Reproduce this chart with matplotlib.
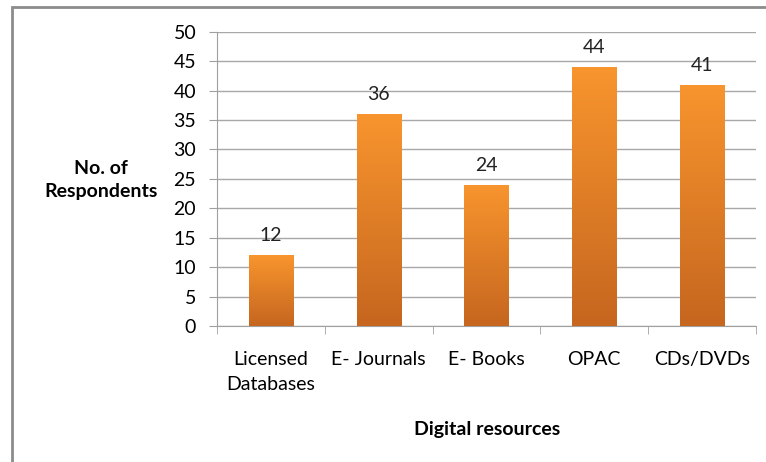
import numpy as np
import matplotlib
matplotlib.use('Agg')
import matplotlib.pyplot as plt
from matplotlib.colors import LinearSegmentedColormap
from matplotlib.patches import Rectangle

categories = ['Licensed\nDatabases', 'E- Journals', 'E- Books', 'OPAC', 'CDs/DVDs']
respondents = [12, 36, 24, 44, 41]
yticks = [0, 5, 10, 15, 20, 25, 30, 35, 40, 45, 50]

plt.rcParams['font.family'] = ['Lato', 'DejaVu Sans']

fig = plt.figure(figsize=(7.66, 4.62), dpi=100)
ax = fig.add_axes([0.2833, 0.2944, 0.7036, 0.637])

# outer frame like the exported chart area
fig.patches.append(Rectangle((12 / 766, -0.05), 1.1, 1 - 7 / 462 + 0.05,
                             transform=fig.transFigure, fill=False,
                             edgecolor='#8c8c8c', linewidth=2))

x = np.arange(len(categories))
bars = ax.bar(x, respondents, width=0.41, color='#e88426', zorder=2)

grad = LinearSegmentedColormap.from_list('orng', ['#c6661f', '#f8952e'])
g = np.linspace(0, 1, 256).reshape(-1, 1)
for b in bars:
    bx, by = b.get_x(), b.get_y()
    im = ax.imshow(g, cmap=grad, aspect='auto', origin='lower',
                   extent=(bx, bx + b.get_width(), by, by + b.get_height()),
                   zorder=3)
    im.set_clip_path(b)

for xi, v in zip(x, respondents):
    ax.annotate(str(v), (xi, v), xytext=(0, 8), textcoords='offset points',
                ha='center', va='bottom', fontsize=14, color='#222222')

ax.set_xlim(-0.5, len(categories) - 0.5)
ax.set_ylim(0, 50)
ax.set_yticks(yticks)
ax.set_xticks(x)
ax.set_xticklabels(categories, fontsize=14, linespacing=1.6)
ax.set_xticks(np.arange(-0.5, len(categories)), minor=True)
ax.tick_params(axis='x', which='major', length=0, pad=18)
ax.tick_params(axis='x', which='minor', length=6, color='#a0a0a0')
ax.tick_params(axis='y', length=6, color='#a0a0a0', labelsize=14, pad=9)
ax.yaxis.grid(True, color='#a8a8a8', linewidth=1)
ax.set_axisbelow(True)
for s in ['top', 'right']:
    ax.spines[s].set_visible(False)
for s in ['left', 'bottom']:
    ax.spines[s].set_color('#a0a0a0')

fig.text(101 / 766, 1 - 180 / 462, 'No. of\nRespondents', ha='center', va='center',
         fontsize=14, fontweight='bold', linespacing=1.45)
fig.text(487 / 766, 1 - 429 / 462, 'Digital resources', ha='center', va='center',
         fontsize=14, fontweight='bold')

fig.savefig('out.png', dpi=100)
